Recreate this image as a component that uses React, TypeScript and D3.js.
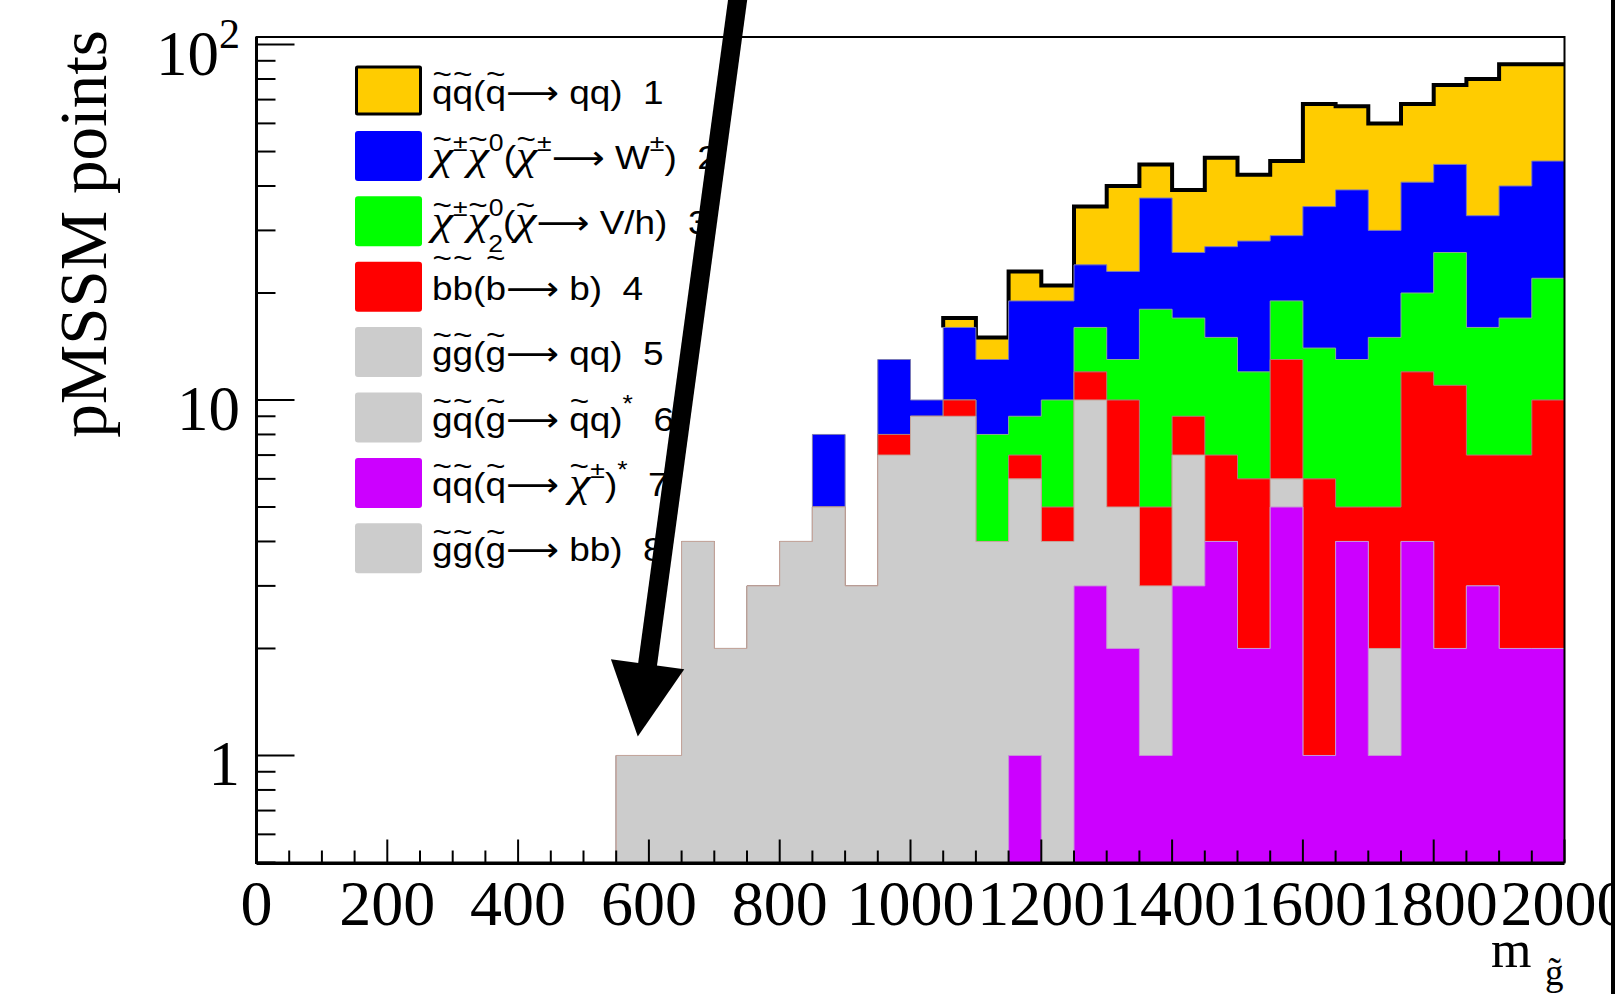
import React from "react";
import * as d3 from "d3";

// gluino mass bins (lower edges, GeV), 50 GeV wide
const binLow = [550, 600, 650, 700, 750, 800, 850, 900, 950, 1000, 1050, 1100, 1150, 1200, 1250, 1300, 1350, 1400, 1450, 1500, 1550, 1600, 1650, 1700, 1750, 1800, 1850, 1900, 1950];
const binWidth = 50;

// number of pMSSM points per process
const sqSq = [0, 0, 0, 0, 0, 0, 0, 0, 0, 0, 1, 2, 4, 2, 11, 17, 9, 13, 21, 15, 18, 33, 28, 30, 27, 31, 47, 48, 41]; // 1
const chiChiW = [0, 0, 0, 0, 0, 0, 3, 0, 5, 1, 6, 5, 10, 9, 8, 10, 19, 9, 12, 16, 10, 21, 26, 15, 21, 20, 17, 23, 25]; // 2
const chiChiVh = [0, 0, 0, 0, 0, 0, 0, 0, 0, 0, 0, 4, 2, 5, 4, 3, 13, 8, 8, 6, 6, 8, 8, 10, 8, 15, 9, 10, 12]; // 3
const sbSb = [0, 0, 0, 0, 0, 0, 0, 0, 1, 0, 1, 0, 1, 1, 2, 5, 2, 2, 3, 4, 7, 5, 1, 3, 8, 9, 4, 5, 8]; // 4
const gluinoGrey = [1, 1, 4, 2, 3, 4, 5, 3, 7, 9, 9, 4, 5, 4, 7, 3, 2, 4, 0, 0, 1, 0, 0, 1, 0, 0, 0, 0, 0]; // 5, 6, 8 (all grey)
const sqChargino = [0, 0, 0, 0, 0, 0, 0, 0, 0, 0, 0, 0, 1, 0, 3, 2, 1, 3, 4, 2, 5, 1, 4, 1, 4, 2, 3, 2, 2]; // 7

const legendLabels = [
  "q\u0303q\u0303(q\u0303\u2192 qq)  1",
  "\u03c7\u0303^{\u00b1}\u03c7\u0303^{0}(\u03c7\u0303^{\u00b1}\u2192 W^{\u00b1})  2",
  "\u03c7\u0303^{\u00b1}\u03c7\u0303^{0}_{2}(\u03c7\u0303\u2192 V/h)  3",
  "b\u0303b\u0303(b\u0303\u2192 b)  4",
  "g\u0303g\u0303(g\u0303\u2192 qq)  5",
  "g\u0303q\u0303(g\u0303\u2192 q\u0303q)^{*}  6",
  "q\u0303q\u0303(q\u0303\u2192 \u03c7\u0303^{\u00b1})^{*}  7",
  "g\u0303g\u0303(g\u0303\u2192 bb)  8",
];
const legendColors = ["#ffcc00", "#0000ff", "#00ff00", "#ff0000", "#cccccc", "#cccccc", "#cc00ff", "#cccccc"];

const xTicks = [0, 200, 400, 600, 800, 1000, 1200, 1400, 1600, 1800, 2000];
const yTicks = [1, 10, 100];

// arrow drawn in data coordinates: [m_gluino, points]
const arrowTail = [736, 135];
const arrowTip = [583, 1.13];

const W = 1615;
const H = 994;
const serif = "'Liberation Serif', 'Times New Roman', serif";
const sans = "'Liberation Sans', Arial, Helvetica, 'DejaVu Sans', sans-serif";

// rough advance widths (em) used to centre the tildes
const charW: Record<string, number> = { q: 0.556, g: 0.556, b: 0.556, "\u03c7": 0.55 };
const chiScale = 1.3;

// small ROOT-latex-like renderer: ^{..}, _{..}, x\u0303 (tilde over x)
function richText(str: string, size: number) {
  const parts = str.split(/(\^\{[^}]*\}|_\{[^}]*\})/).filter(p => p !== "");
  const out: any[] = [];
  let cur = 0;
  let pendDx = 0;
  let lastSupW = 0;
  let prevSup = false;
  let key = 0;
  const emit = (txt: string, shift: number, fs: number, family?: string, extraDx = 0, italic = false) => {
    out.push(
      <tspan
        key={key++}
        dy={shift - cur}
        dx={pendDx + extraDx}
        fontSize={fs}
        fontFamily={family}
        fontStyle={italic ? "italic" : undefined}
      >
        {txt}
      </tspan>,
    );
    cur = shift;
    pendDx = 0;
  };
  parts.forEach(p => {
    let base = 0;
    let fs = size;
    let txt = p;
    let dx0 = 0;
    let isSup = false;
    if (p.startsWith("^{")) {
      base = -0.55 * size;
      fs = 0.72 * size;
      txt = p.slice(2, -1);
      isSup = true;
      lastSupW = txt.length * 0.58 * fs;
    } else if (p.startsWith("_{")) {
      base = 0.55 * size;
      fs = 0.72 * size;
      txt = p.slice(2, -1);
      if (prevSup) dx0 = -lastSupW;
    }
    const toks = txt.split(/(.\u0303|\u03c7|\u2192)/).filter(t => t !== "");
    toks.forEach((t, j) => {
      const extra = j === 0 ? dx0 : 0;
      if (t.length === 2 && t[1] === "\u0303") {
        const L = t[0];
        const isChi = L === "\u03c7";
        const lfs = isChi ? fs * chiScale : fs;
        const wL = (charW[L] ?? 0.556) * lfs;
        const tfs = fs * 0.9;
        const wT = 0.584 * tfs;
        const raise = L === "b" ? 0.95 * fs : 0.6 * fs;
        emit(L, base, lfs, isChi ? serif : undefined, extra, isChi);
        pendDx = -(wL + wT) / 2 + (isChi ? 2 : 0);
        emit("~", base - raise, tfs, sans);
        pendDx = (wL - wT) / 2 - (isChi ? 2 : 0);
      } else if (t === "\u03c7") {
        emit(t, base, fs * chiScale, serif, extra, true);
      } else if (t === "\u2192") {
        emit("\u27f6", base, fs, "'DejaVu Sans'", extra);
      } else {
        emit(t, base, fs, undefined, extra);
      }
    });
    prevSup = isSup;
  });
  return out;
}

const App = () => {
  const x = d3.scaleLinear().domain([0, 2000]).range([256.5, 1564.5]);
  const y = d3.scaleLog().domain([0.5, 105]).range([862.5, 37]);
  const [yBottom, yTop] = y.range();
  const [xLeft, xRight] = x.range();

  // stack from bottom: 7, grey, 4, 3, 2, 1
  const keys = ["sqChargino", "gluinoGrey", "sbSb", "chiChiVh", "chiChiW", "sqSq"];
  const rows = binLow.map((b, i) => ({
    b,
    sqChargino: sqChargino[i],
    gluinoGrey: gluinoGrey[i],
    sbSb: sbSb[i],
    chiChiVh: chiChiVh[i],
    chiChiW: chiChiW[i],
    sqSq: sqSq[i],
  }));
  const stacked = d3.stack<any>().keys(keys)(rows);
  const fills = ["#cc00ff", "#cccccc", "#ff0000", "#00ff00", "#0000ff", "#ffcc00"];
  const edges = ["#c890d8", "#c4a69c", "#b07a7a", "#88b088", "#7a7ab8", "#ffcc00"];

  const yv = (v: number) => (v > 0 ? y(Math.max(v, 0.5)) : yBottom);
  const area = d3
    .area<[number, number]>()
    .curve(d3.curveStepAfter)
    .x(d => x(d[0]))
    .y0(yBottom)
    .y1(d => yv(d[1]));
  const stepLine = d3
    .line<[number, number]>()
    .curve(d3.curveStepAfter)
    .x(d => x(d[0]))
    .y(d => yv(d[1]));

  const layerPts = (k: number): [number, number][] => {
    const tops = stacked[k].map(d => d[1]);
    return [...binLow.map((b, i) => [b, tops[i]] as [number, number]), [binLow[binLow.length - 1] + binWidth, tops[tops.length - 1]]];
  };

  // black outline of the top histogram where it is non-empty
  const total = stacked[5].map(d => d[1]);
  const below = stacked[4].map(d => d[1]);
  const first = sqSq.findIndex(v => v > 0);
  let last = sqSq.length - 1;
  while (last > 0 && sqSq[last] === 0) last--;
  const outlinePts: [number, number][] = [[binLow[first], below[first]]];
  for (let i = first; i <= last; i++) outlinePts.push([binLow[i], total[i]]);
  outlinePts.push([binLow[last] + binWidth, total[last]]);

  // ticks
  const xMinor = d3.range(0, 2001, 50).filter(v => v % 200 !== 0);
  const yMinor: number[] = [];
  [0.1, 1, 10].forEach(dec => d3.range(2, 10).forEach(m => {
    const v = m * dec;
    if (v >= 0.5 && v <= 105) yMinor.push(v);
  }));

  // arrow geometry
  const tail = [x(arrowTail[0]), y(arrowTail[1])];
  const tip = [x(arrowTip[0]), y(arrowTip[1])];
  const len = Math.hypot(tip[0] - tail[0], tip[1] - tail[1]);
  const u = [(tip[0] - tail[0]) / len, (tip[1] - tail[1]) / len];
  const nrm = [-u[1], u[0]];
  const headLen = 73;
  const headHalf = 37;
  const base = [tip[0] - headLen * u[0], tip[1] - headLen * u[1]];
  const head = [
    [base[0] + headHalf * nrm[0], base[1] + headHalf * nrm[1]],
    tip,
    [base[0] - headHalf * nrm[0], base[1] - headHalf * nrm[1]],
  ];

  const legendY0 = 90.5;
  const legendStep = 65.4;

  return (
    <svg width={W} height={H} style={{ position: "absolute", left: 0, top: 0, background: "#fff" }}>
      <rect x={0} y={0} width={W} height={H} fill="#fff" />

      {/* stacked histogram: drawn from the total down */}
      {d3.range(5, -1, -1).map(k => (
        <g key={keys[k]}>
          <path d={area(layerPts(k)) || ""} fill={fills[k]} stroke={k === 5 ? "none" : edges[k]} strokeWidth={1} />
          {k === 5 && (
            <path d={stepLine(outlinePts) || ""} fill="none" stroke="#000" strokeWidth={4} strokeLinejoin="miter" />
          )}
        </g>
      ))}

      {/* frame */}
      <rect x={xLeft} y={yTop} width={xRight - xLeft} height={yBottom - yTop} fill="none" stroke="#000" strokeWidth={2} />
      <line x1={xLeft} x2={xLeft} y1={yTop} y2={yBottom + 1.5} stroke="#000" strokeWidth={3} />
      <line x1={xLeft} x2={xRight} y1={yBottom + 1} y2={yBottom + 1} stroke="#000" strokeWidth={3} />

      {/* x ticks */}
      {xTicks.map(t => (
        <line key={"xM" + t} x1={x(t)} x2={x(t)} y1={yBottom} y2={yBottom - 23} stroke="#000" strokeWidth={2} />
      ))}
      {xMinor.map(t => (
        <line key={"xm" + t} x1={x(t)} x2={x(t)} y1={yBottom} y2={yBottom - 12} stroke="#000" strokeWidth={2} />
      ))}
      {/* y ticks */}
      {yTicks.map(t => (
        <line key={"yM" + t} x1={xLeft} x2={xLeft + 38} y1={y(t)} y2={y(t)} stroke="#000" strokeWidth={2} />
      ))}
      {yMinor.map(t => (
        <line key={"ym" + t} x1={xLeft} x2={xLeft + 19} y1={y(t)} y2={y(t)} stroke="#000" strokeWidth={2} />
      ))}

      {/* tick labels */}
      {xTicks.map(t => (
        <text key={"xl" + t} x={x(t)} y={925} textAnchor="middle" fontFamily={serif} fontSize={64} fill="#000">
          {t}
        </text>
      ))}
      {yTicks.map(t => (
        <text key={"yl" + t} x={240} y={y(t) + 30} textAnchor="end" fontFamily={serif} fontSize={63} fill="#000">
          {t === 100 ? (
            <>
              <tspan>10</tspan>
              <tspan dy={-27} fontSize={42}>2</tspan>
            </>
          ) : (
            String(t)
          )}
        </text>
      ))}

      {/* axis titles */}
      <text transform="translate(106, 234) rotate(-90)" textAnchor="middle" fontFamily={serif} fontSize={67} fill="#000">
        pMSSM points
      </text>
      <text x={1491} y={967} fontFamily={serif} fontSize={52} fill="#000">
        m
      </text>
      <text x={1545} y={985} fontFamily={serif} fontSize={37} fill="#000">
        {"g\u0303"}
      </text>

      {/* legend */}
      {legendLabels.map((lab, i) => {
        const cy = legendY0 + legendStep * i;
        return (
          <g key={"leg" + i}>
            <rect
              x={i === 0 ? 356.5 : 355}
              y={i === 0 ? cy - 23.5 : cy - 25}
              width={i === 0 ? 64 : 67}
              height={i === 0 ? 47 : 50}
              rx={i === 0 ? 1 : 3}
              fill={legendColors[i]}
              stroke={i === 0 ? "#000" : "none"}
              strokeWidth={3}
            />
            <g transform={`translate(432, ${cy + 13}) scale(1.12, 1)`}>
              <text x={0} y={0} fontFamily={sans} fontSize={33} fill="#000" style={{ whiteSpace: "pre" }}>
                {richText(lab, 33)}
              </text>
            </g>
          </g>
        );
      })}

      {/* annotation arrow */}
      <line x1={tail[0]} y1={tail[1]} x2={base[0] + 2 * u[0]} y2={base[1] + 2 * u[1]} stroke="#000" strokeWidth={19} />
      <polygon points={head.map(p => p.join(",")).join(" ")} fill="#000" />

      {/* right edge of the original canvas */}
      <rect x={1611} y={0} width={4} height={H} fill="#000" />
    </svg>
  );
};

export default App;
